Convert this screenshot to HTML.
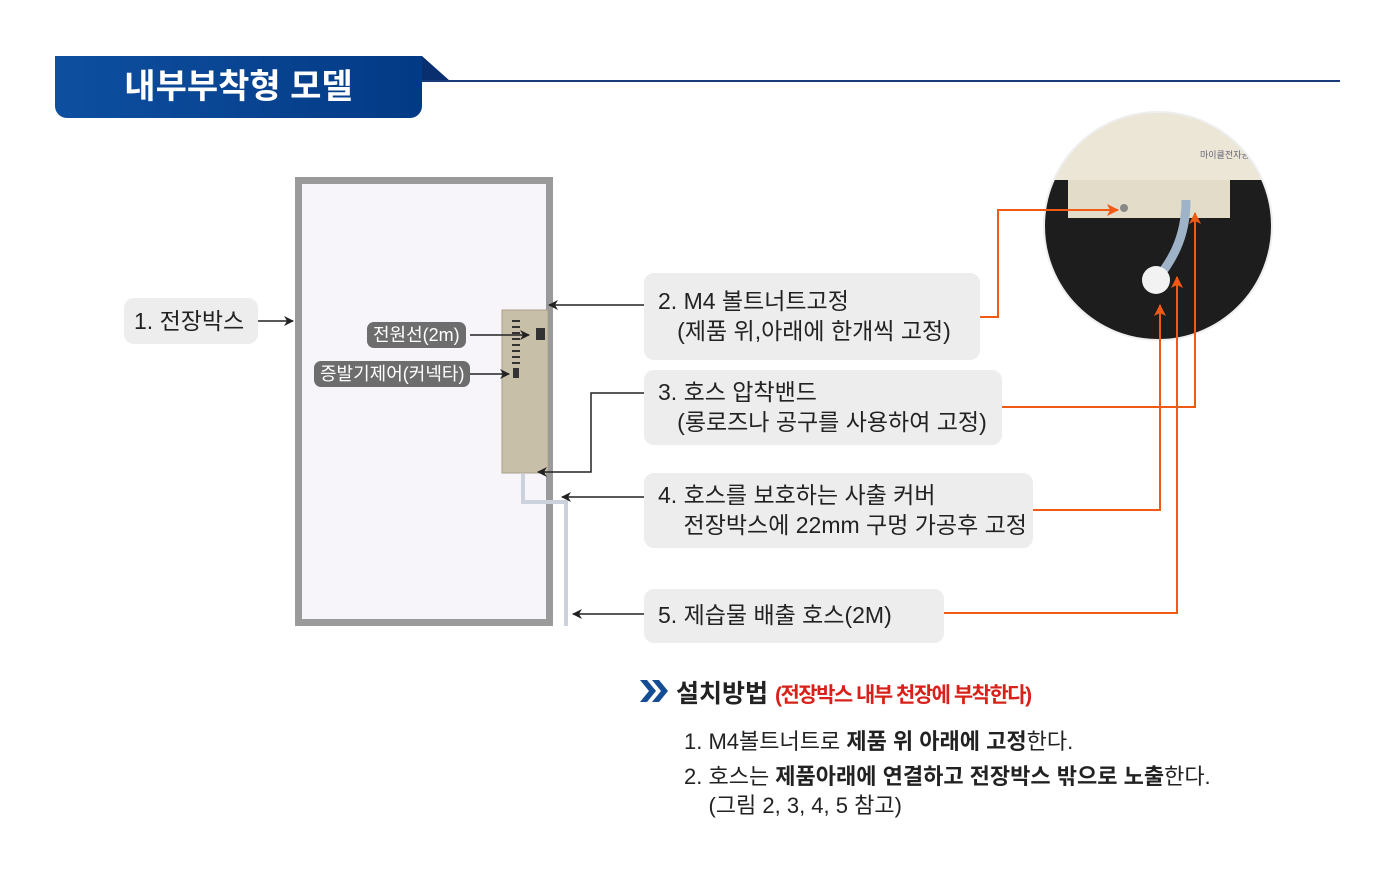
<!DOCTYPE html>
<html><head><meta charset="utf-8"><style>
body{margin:0;width:1400px;height:875px;background:#fff;position:relative;overflow:hidden;font-family:"Liberation Sans","Noto Sans CJK KR",sans-serif;}
.a{position:absolute}
.box{position:absolute;background:#ededed;border-radius:10px;color:#222;font-size:23px;line-height:30px;box-sizing:border-box;padding:13px 14px;white-space:nowrap}
.pill{position:absolute;background:#6d6d6d;color:#fff;border-radius:7px;font-size:18px;line-height:26px;padding:0 6px;white-space:nowrap}
</style></head><body>
<div class="a" style="left:55px;top:56px;width:367px;height:62px;background:linear-gradient(90deg,#0e4fa0,#033a85);border-radius:0 0 12px 12px"></div>
<div class="a" style="left:55px;top:56px;width:367px;height:62px;color:#fff;font-weight:bold;font-size:34px;line-height:62px;text-align:center">내부부착형 모델</div>
<svg class="a" style="left:0;top:0" width="1400" height="875">
<polygon points="422,56 450,81 422,81" fill="#0a2f6e"/>
<line x1="422" y1="81" x2="1340" y2="81" stroke="#1a3a7a" stroke-width="2"/>
<rect x="298.5" y="180.5" width="251" height="442" fill="#f7f5fa" stroke="#9a9a9a" stroke-width="7"/>
<rect x="502" y="310" width="46" height="163" fill="#c8bfa9" stroke="#a9a08a"/>
<g fill="#333"><rect x="512" y="320" width="8" height="2"/><rect x="512" y="326" width="8" height="2"/><rect x="512" y="332" width="8" height="2"/><rect x="512" y="338" width="8" height="2"/><rect x="512" y="344" width="8" height="2"/><rect x="512" y="350" width="8" height="2"/><rect x="512" y="356" width="8" height="2"/><rect x="512" y="362" width="8" height="2"/>
<rect x="536" y="328" width="9" height="12"/><rect x="513" y="368" width="6" height="10"/></g>
<path d="M523,474 V502 H566 V626" fill="none" stroke="#ccd2dc" stroke-width="4"/>
<defs><clipPath id="c"><circle cx="1158" cy="226" r="114"/></clipPath>
<marker id="k" markerWidth="10" markerHeight="10" refX="9" refY="5" orient="auto" markerUnits="userSpaceOnUse"><path d="M0,0 L10,5 L0,10 L3,5z" fill="#222"/></marker>
<marker id="o" markerWidth="12" markerHeight="12" refX="11" refY="6" orient="auto" markerUnits="userSpaceOnUse"><path d="M0,0 L12,6 L0,12 L3,6z" fill="#f05a14"/></marker></defs>
<g clip-path="url(#c)"><rect x="1040" y="110" width="240" height="240" fill="#1d1d1d"/>
<polygon points="1040,110 1280,110 1280,180 1230,180 1230,218 1068,218 1068,180 1040,180" fill="#ebe6d6"/>
<rect x="1068" y="180" width="162" height="38" fill="#e2dcc9"/>
<path d="M1186,200 C1186,240 1170,262 1158,278" stroke="#9fb3c8" stroke-width="9" fill="none"/>
<circle cx="1156" cy="280" r="14" fill="#f2f2f2"/><circle cx="1124" cy="208" r="4" fill="#888"/>
<text x="1200" y="158" font-size="9" fill="#667">마이클전자공업</text></g>
<circle cx="1158" cy="226" r="114" fill="none" stroke="#eee" stroke-width="2"/>
<g stroke="#f05a14" stroke-width="2" fill="none">
<path d="M980,317 H998 V210 H1118" marker-end="url(#o)"/>
<path d="M1002,407 H1195 V213" marker-end="url(#o)"/>
<path d="M1033,510 H1160 V305" marker-end="url(#o)"/>
<path d="M944,613 H1177 V277" marker-end="url(#o)"/></g>
<g stroke="#222" stroke-width="1.5" fill="none">
<path d="M258,321 H293" marker-end="url(#k)"/>
<path d="M644,305 H549" marker-end="url(#k)"/>
<path d="M644,393 H591 V472 H538" marker-end="url(#k)"/>
<path d="M644,497 H562" marker-end="url(#k)"/>
<path d="M644,614 H573" marker-end="url(#k)"/>
<path d="M470,335 H529" marker-end="url(#k)"/>
<path d="M470,374 H509" marker-end="url(#k)"/></g>
<path d="M640,680 l9,11 l-9,11 h7 l9,-11 l-9,-11z M652,680 l9,11 l-9,11 h7 l9,-11 l-9,-11z" fill="#154d94"/>
</svg>
<div class="box" style="left:124px;top:298px;width:134px;height:46px;padding:8px 10px">1. 전장박스</div>
<div class="pill" style="left:367px;top:322px">전원선(2m)</div>
<div class="pill" style="left:314px;top:361px">증발기제어(커넥타)</div>
<div class="box" style="left:644px;top:273px;width:336px;height:87px">2. M4 볼트너트고정<br>&nbsp;&nbsp; (제품 위,아래에 한개씩 고정)</div>
<div class="box" style="left:644px;top:370px;width:358px;height:75px;padding-top:7px">3. 호스 압착밴드<br>&nbsp;&nbsp; (롱로즈나 공구를 사용하여 고정)</div>
<div class="box" style="left:644px;top:473px;width:389px;height:75px;padding-top:7px">4. 호스를 보호하는 사출 커버<br>&nbsp;&nbsp;&nbsp; 전장박스에 22mm 구멍 가공후 고정</div>
<div class="box" style="left:644px;top:589px;width:300px;height:54px;padding-top:11px">5. 제습물 배출 호스(2M)</div>
<div class="a" style="left:676px;top:674px;font-size:25px;font-weight:bold;color:#222;white-space:nowrap">설치방법 <span style="color:#d9211b;font-size:21px;letter-spacing:-1.5px">(전장박스 내부 천장에 부착한다)</span></div>
<div class="a" style="left:684px;top:724px;font-size:22px;line-height:35px;color:#222;white-space:nowrap">1. M4볼트너트로 <b>제품 위 아래에 고정</b>한다.<br>2. 호스는 <b>제품아래에 연결하고 전장박스 밖으로 노출</b>한다.<br><span style="position:relative;top:-6px">&nbsp;&nbsp;&nbsp;&nbsp;(그림 2, 3, 4, 5 참고)</span></div>
</body></html>
